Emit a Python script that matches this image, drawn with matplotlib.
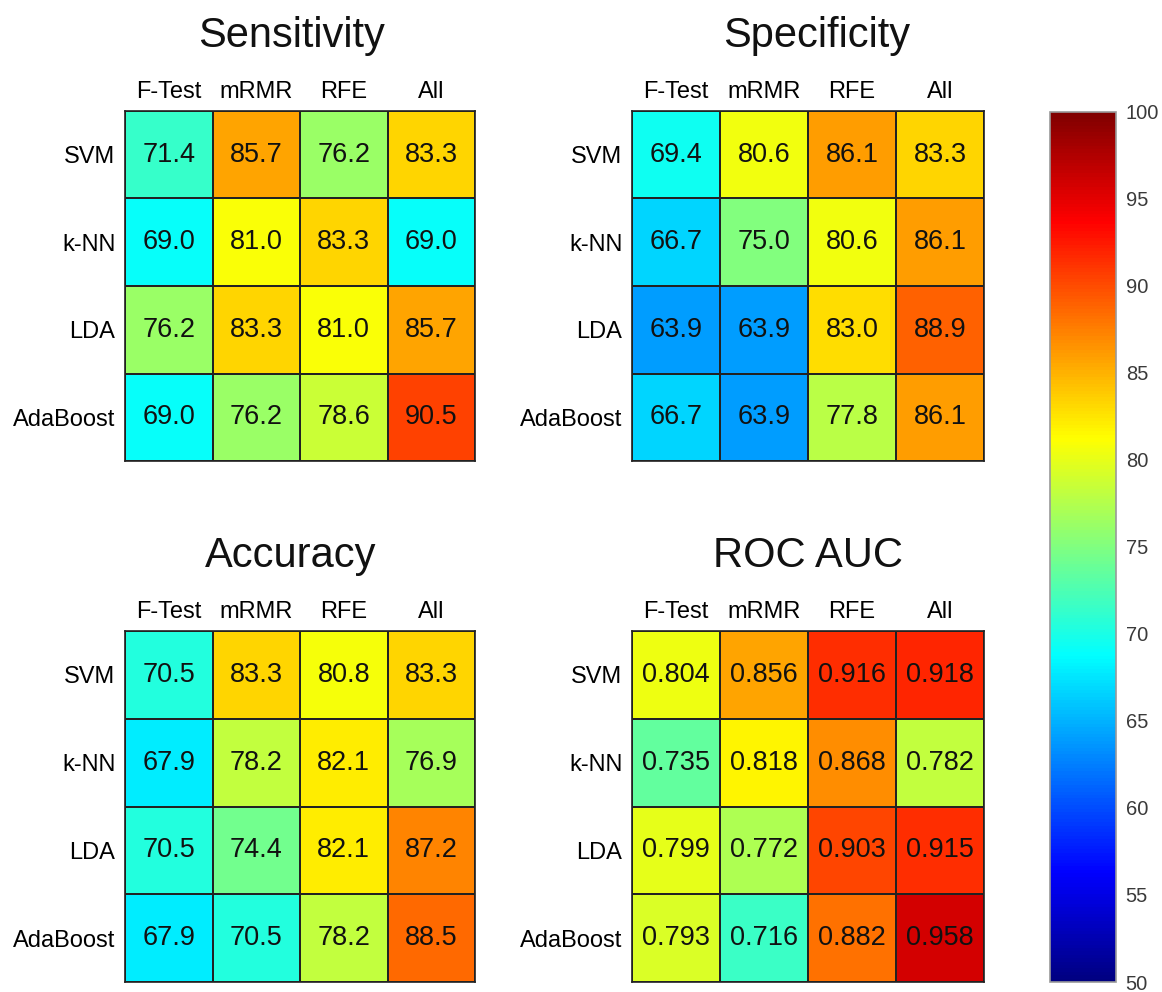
import numpy as np
import matplotlib
matplotlib.use('Agg')
from matplotlib import pyplot as plt
from matplotlib.colors import LinearSegmentedColormap

plt.rcParams['font.family'] = ['Liberation Sans', 'DejaVu Sans']

methods = ['F-Test', 'mRMR', 'RFE', 'All']
models = ['SVM', 'k-NN', 'LDA', 'AdaBoost']

sensitivity = [[71.4, 85.7, 76.2, 83.3],
               [69.0, 81.0, 83.3, 69.0],
               [76.2, 83.3, 81.0, 85.7],
               [69.0, 76.2, 78.6, 90.5]]
specificity = [[69.4, 80.6, 86.1, 83.3],
               [66.7, 75.0, 80.6, 86.1],
               [63.9, 63.9, 83.0, 88.9],
               [66.7, 63.9, 77.8, 86.1]]
accuracy = [[70.5, 83.3, 80.8, 83.3],
            [67.9, 78.2, 82.1, 76.9],
            [70.5, 74.4, 82.1, 87.2],
            [67.9, 70.5, 78.2, 88.5]]
roc_auc = [[0.804, 0.856, 0.916, 0.918],
           [0.735, 0.818, 0.868, 0.782],
           [0.799, 0.772, 0.903, 0.915],
           [0.793, 0.716, 0.882, 0.958]]

# matlab style jet (breakpoints at 1/8, 3/8, 5/8, 7/8)
jet_m = LinearSegmentedColormap('jet_m', {
    'red':   [(0, 0, 0), (0.375, 0, 0), (0.625, 1, 1), (0.875, 1, 1), (1, 0.5, 0.5)],
    'green': [(0, 0, 0), (0.125, 0, 0), (0.375, 1, 1), (0.625, 1, 1), (0.875, 0, 0), (1, 0, 0)],
    'blue':  [(0, 0.5, 0.5), (0.125, 1, 1), (0.375, 1, 1), (0.625, 0, 0), (1, 0, 0)],
}, N=256)

fig = plt.figure(figsize=(11.62, 9.92), dpi=100)

W, H = 1162.0, 992.0
def box(x0, y0, x1, y1):
    # pixel box (top-left origin) -> figure fraction
    return [x0/W, 1-y1/H, (x1-x0)/W, (y1-y0)/H]

panels = [
    ('Sensitivity', sensitivity, 1, '{:.1f}', box(125, 111, 475, 461), 0.477),
    ('Specificity', specificity, 1, '{:.1f}', box(632, 111, 984, 461), 0.526),
    ('Accuracy', accuracy, 1, '{:.1f}', box(125, 631, 475, 982), 0.474),
    ('ROC AUC', roc_auc, 100, '{:.3f}', box(632, 631, 984, 982), 0.5),
]

mesh = None
for title, vals, scale, fmt, rect, tx in panels:
    ax = fig.add_axes(rect)
    v = np.array(vals)
    mesh = ax.pcolormesh(v*scale, cmap=jet_m, vmin=50, vmax=100,
                         edgecolors='#222222', linewidth=1.2)
    ax.set_xlim(0, 4)
    ax.set_ylim(4, 0)
    for i in range(4):
        for j in range(4):
            ax.text(j+0.5, i+0.5, fmt.format(v[i, j]), ha='center', va='center',
                    fontsize=19.5, color='#111111')
    ax.xaxis.tick_top()
    ax.set_xticks(np.arange(4)+0.5)
    ax.set_xticklabels(methods, fontsize=17)
    ax.set_yticks(np.arange(4)+0.5)
    ax.set_yticklabels(models, fontsize=17)
    ax.tick_params(length=0, pad=7)
    ax.tick_params(axis='x', pad=6)
    for s in ax.spines.values():
        s.set_color('#222222')
        s.set_linewidth(1.2)
    ax.text(tx, 1.183, title, transform=ax.transAxes, ha='center', va='baseline',
            fontsize=30, color='#111111')

cax = fig.add_axes(box(1050, 112, 1116, 982))
cb = fig.colorbar(mesh, cax=cax, ticks=np.arange(50, 101, 5))
cb.outline.set_edgecolor('#999999')
cb.outline.set_linewidth(1.2)
cax.tick_params(length=0, pad=7, labelsize=14.5, labelcolor='#3a3a3a')

plt.savefig('out.png', dpi=100)
plt.close()
